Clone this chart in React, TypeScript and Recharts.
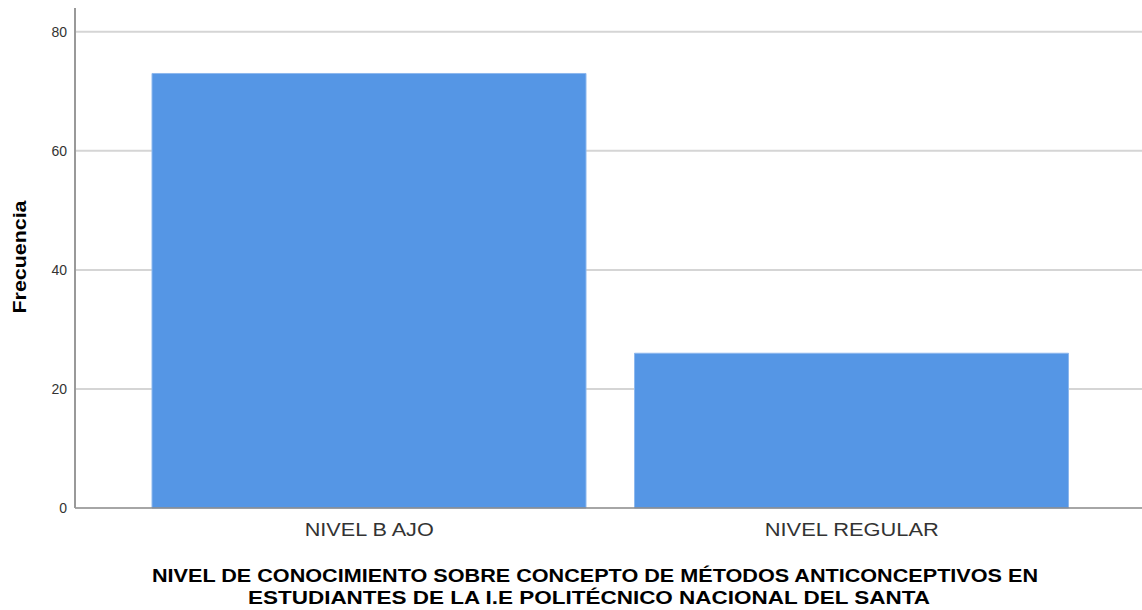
import React from 'react';
import { BarChart, Bar, XAxis, YAxis, CartesianGrid } from 'recharts';

const categories = ['NIVEL B AJO', 'NIVEL REGULAR'];
const frecuencias = [73, 26];
const yTicks = [0, 20, 40, 60, 80];
const yDomain = [0, 84];
const yLabel = 'Frecuencia';
const titleLines = [
  'NIVEL DE CONOCIMIENTO SOBRE CONCEPTO DE MÉTODOS ANTICONCEPTIVOS EN',
  'ESTUDIANTES DE LA I.E POLITÉCNICO NACIONAL DEL SANTA',
];

const data = categories.map((c, i) => ({ name: c, value: frecuencias[i] }));

const tickWidths: Record<string, number> = { 'NIVEL B AJO': 129, 'NIVEL REGULAR': 174 };

const XTick = (props: any) => {
  const { x, y, payload } = props;
  const w = tickWidths[payload.value];
  return (
    <text
      x={x}
      y={y + 20}
      textAnchor="middle"
      fontFamily="Liberation Sans, Arial, sans-serif"
      fontSize={18}
      fill="#333"
      textLength={w}
      lengthAdjust="spacingAndGlyphs"
    >
      {payload.value}
    </text>
  );
};

const gridGen = (args: any) => {
  const { yAxis, offset } = args;
  const toY = (t: number) => {
    if (yAxis && typeof yAxis.scale === 'function') return yAxis.scale(t);
    if (yAxis && yAxis.scale && typeof yAxis.scale.map === 'function') return yAxis.scale.map(t);
    return offset.top + offset.height * (1 - (t - yDomain[0]) / (yDomain[1] - yDomain[0]));
  };
  return yTicks.filter((t) => t > 0).map(toY);
};

export default function App() {
  return (
    <div style={{ position: 'absolute', left: 0, top: 0, width: 1142, height: 610, background: '#fff' }}>
      <BarChart
        width={1142}
        height={610}
        data={data}
        margin={{ top: 8, right: 0, left: 0, bottom: 72 }}
        barSize={434}
      >
        <CartesianGrid
          vertical={false}
          stroke="#d5d5d5"
          strokeWidth={2}
          horizontalCoordinatesGenerator={gridGen}
        />
        <XAxis
          dataKey="name"
          height={30}
          padding={{ left: 53, right: 49 }}
          tickLine={false}
          axisLine={{ stroke: '#888', strokeWidth: 1.5 }}
          tick={<XTick />}
          interval={0}
        />
        <YAxis
          width={75}
          domain={yDomain}
          ticks={yTicks}
          tickLine={false}
          axisLine={{ stroke: '#999', strokeWidth: 2 }}
          tick={{ fontFamily: 'Liberation Sans, Arial, sans-serif', fontSize: 14, fill: '#333' }}
        />
        <Bar dataKey="value" fill="#5596E5" stroke="#8db8ee" strokeWidth={1} isAnimationActive={false} />
      </BarChart>
      <svg
        width={1142}
        height={610}
        style={{ position: 'absolute', left: 0, top: 0, pointerEvents: 'none' }}
      >
        <text
          transform="translate(26,257) rotate(-90)"
          textAnchor="middle"
          fontFamily="Liberation Sans, Arial, sans-serif"
          fontWeight="bold"
          fontSize={19}
          fill="#000"
          textLength={113}
          lengthAdjust="spacingAndGlyphs"
        >
          {yLabel}
        </text>
        <text
          x={595}
          y={582}
          textAnchor="middle"
          fontFamily="Liberation Sans, Arial, sans-serif"
          fontWeight="bold"
          fontSize={19}
          fill="#000"
          textLength={886}
          lengthAdjust="spacingAndGlyphs"
        >
          {titleLines[0]}
        </text>
        <text
          x={589}
          y={604}
          textAnchor="middle"
          fontFamily="Liberation Sans, Arial, sans-serif"
          fontWeight="bold"
          fontSize={19}
          fill="#000"
          textLength={682}
          lengthAdjust="spacingAndGlyphs"
        >
          {titleLines[1]}
        </text>
      </svg>
    </div>
  );
}
